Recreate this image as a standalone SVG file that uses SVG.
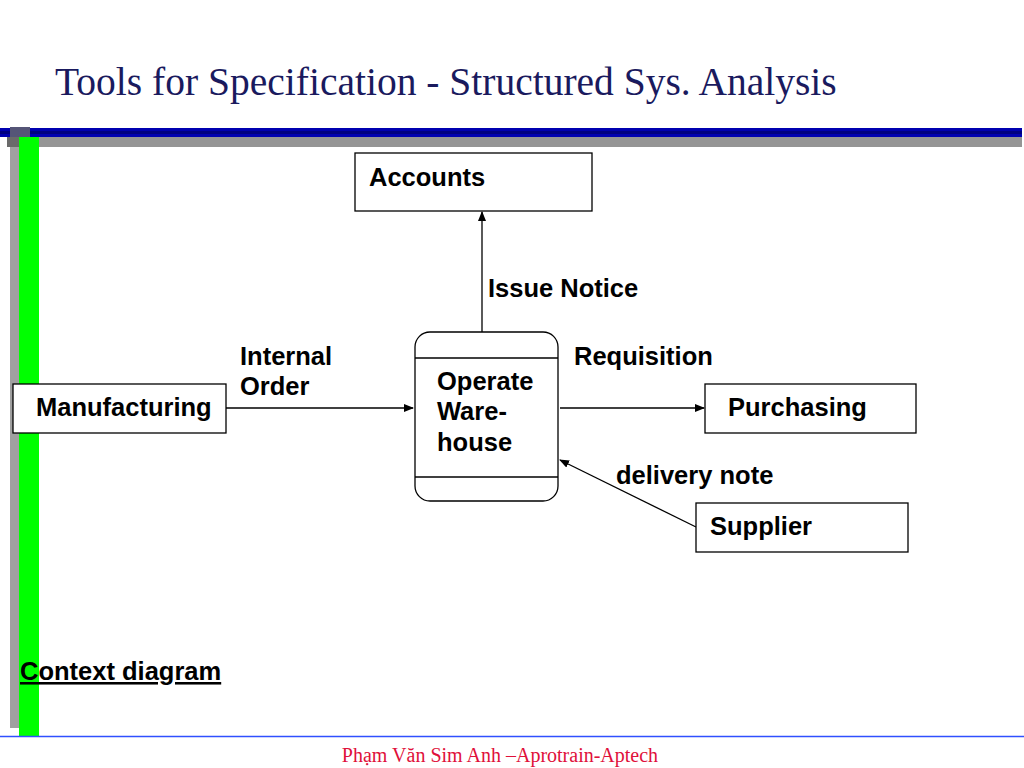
<svg xmlns="http://www.w3.org/2000/svg" width="1024" height="768" viewBox="0 0 1024 768">
<defs>
<style>
.t{font-family:"Liberation Sans",Arial,sans-serif;font-weight:bold;font-size:25.5px;fill:#000}
.box{fill:#fff;stroke:#000;stroke-width:1.3}
.ln{stroke:#000;stroke-width:1.3;fill:none}
</style>
<marker id="ah" markerWidth="10" markerHeight="8" refX="9" refY="4" orient="auto" markerUnits="userSpaceOnUse">
<path d="M0,0 L10,4 L0,8 z" fill="#000"/>
</marker>
</defs>
<rect width="1024" height="768" fill="#fff"/>
<!-- decoration -->
<rect x="0" y="128" width="1022" height="9" fill="#0000b0"/>
<rect x="0" y="131" width="1022" height="3" fill="#000060" opacity="0.6"/>
<rect x="7" y="137" width="1015" height="10" fill="#959595"/>
<rect x="10" y="127" width="20" height="10" fill="#555577"/>
<rect x="7" y="137" width="12" height="10" fill="#6a6a6a"/>
<rect x="10" y="147" width="9" height="581" fill="#a0a0a0"/>
<rect x="19" y="137" width="20" height="600" fill="#00ff00"/>
<line x1="0" y1="736.5" x2="1024" y2="736.5" stroke="#3050ff" stroke-width="1.5"/>
<text x="55" y="95" font-family="Liberation Serif,'Times New Roman',serif" font-size="39.5" fill="#1a1a5e">Tools for Specification - Structured Sys. Analysis</text>
<text x="500" y="762" font-family="Liberation Serif,'Times New Roman',serif" font-size="20" fill="#e0103a" text-anchor="middle">Phạm Văn Sim Anh –Aprotrain-Aptech</text>
<!-- connectors -->
<g id="connectors">
<line class="ln" x1="482" y1="332" x2="482" y2="212" marker-end="url(#ah)"/>
<line class="ln" x1="226" y1="408" x2="413" y2="408" marker-end="url(#ah)"/>
<line class="ln" x1="560" y1="408" x2="704" y2="408" marker-end="url(#ah)"/>
<line class="ln" x1="696" y1="527" x2="560" y2="460" marker-end="url(#ah)"/>
<text class="t" x="488" y="297">Issue Notice</text>
<text class="t" x="240" y="365">Internal</text>
<text class="t" x="240" y="395">Order</text>
<text class="t" x="574" y="365">Requisition</text>
<text class="t" x="616" y="484">delivery note</text>
</g>
<g id="accounts">
<rect class="box" x="355" y="153" width="237" height="58"/>
<text class="t" x="369" y="186">Accounts</text>
</g>
<g id="process">
<rect class="box" x="415" y="332" width="143" height="169" rx="15"/>
<line class="ln" x1="415" y1="358" x2="558" y2="358"/>
<line class="ln" x1="415" y1="477" x2="558" y2="477"/>
<text class="t" x="437" y="390">Operate</text>
<text class="t" x="437" y="420">Ware-</text>
<text class="t" x="437" y="451">house</text>
</g>
<g id="manufacturing">
<rect class="box" x="13" y="384" width="213" height="49"/>
<text class="t" x="36" y="416">Manufacturing</text>
</g>
<g id="purchasing">
<rect class="box" x="705" y="384" width="211" height="49"/>
<text class="t" x="728" y="416">Purchasing</text>
</g>
<g id="supplier">
<rect class="box" x="696" y="503" width="212" height="49"/>
<text class="t" x="710" y="535">Supplier</text>
</g>
<text class="t" x="20" y="680" text-decoration="underline">Context diagram</text>
</svg>
